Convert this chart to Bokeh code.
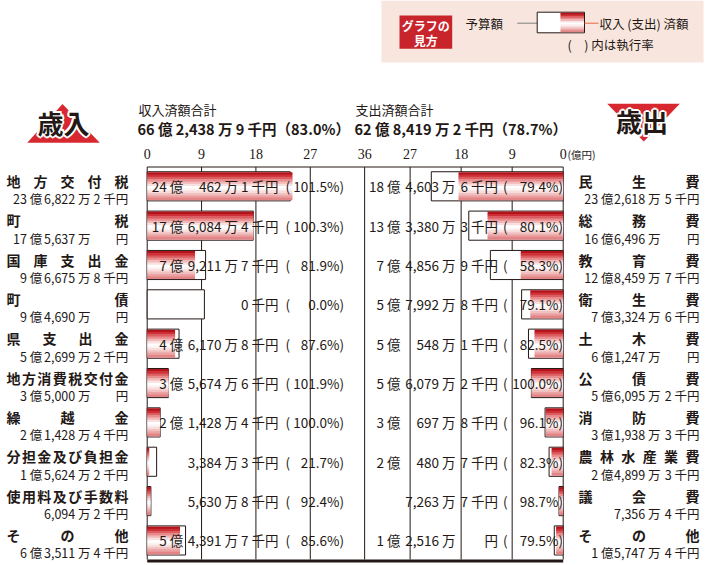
from bokeh.plotting import figure
from bokeh.models import Range1d
from bokeh.core.properties import value
from bokeh.embed import file_html
from bokeh.resources import INLINE

# ---------------- data (千円) ----------------
rev_cats = ["地方交付税", "町税", "国庫支出金", "町債", "県支出金", "地方消費税交付金",
            "繰越金", "分担金及び負担金", "使用料及び手数料", "その他"]
rev_budget = [2368222, 1756370, 966758, 946900, 526992, 350000, 214284, 156242, 60942, 635114]
rev_actual = [2404621, 1760844, 792117, 0, 461708, 356746, 214284, 33843, 56308, 543917]
rev_rate = [101.5, 100.3, 81.9, 0.0, 87.6, 101.9, 100.0, 21.7, 92.4, 85.6]

exp_cats = ["民生費", "総務費", "教育費", "衛生費", "土木費", "公債費", "消防費",
            "農林水産業費", "議会費", "その他"]
exp_budget = [2326185, 1664960, 1284597, 733246, 612470, 560952, 319383, 248993, 73564, 157474]
exp_actual = [1846036, 1333803, 748569, 579928, 505481, 560792, 306978, 204807, 72637, 125160]
exp_rate = [79.4, 80.1, 58.3, 79.1, 82.5, 100.0, 96.1, 82.3, 98.7, 79.5]

rev_total = 6624389
rev_total_rate = 83.0
exp_total = 6284192
exp_total_rate = 78.7

ticks_left = [0, 9, 18, 27, 36]
ticks_right = [0, 9, 18, 27]

FONT = value("Noto Sans CJK JP")
SERIF = value("Liberation Serif")
INK = "#231815"

W, H = 706, 565

# layout helpers: reference pixel -> data coords (left scale / row units)
def X(px):
    return (px - 146.7) / 6.04

def Y(py):
    return (py - 185.8) / 39.35

def oku_units(v):
    return v / 100000.0

def parts(v):
    oku, man, sen = v // 100000, (v // 10) % 10000, v % 10
    a = f"{oku} 億" if oku else ""
    b = f"{man:,} 万" if man else ""
    if v == 0:
        c = "0 千円"
    elif sen:
        c = f"{sen} 千円"
    else:
        c = "円"
    return a, b, c

def total_text(v, r):
    a, b, c = parts(v)
    return f"{a} {b} {c}（{r:.1f}%）"

p = figure(width=W, height=H, x_range=Range1d(X(0), X(W)),
           y_range=Range1d(Y(H), Y(0)), output_backend="svg",
           toolbar_location=None, x_axis_type=None, y_axis_type=None,
           min_border=0, outline_line_color=None)
p.extra_x_ranges = {"r": Range1d(562.7 / 5.67, (562.7 - W) / 5.67)}
p.background_fill_color = "white"
p.border_fill_color = "white"

rows_r = list(range(len(rev_cats)))
rows_e = list(range(len(exp_cats)))

# ---------------- legend ----------------
p.quad(left=[X(381)], right=[X(703)], top=[Y(0)], bottom=[Y(62)],
       fill_color="#f8e6de", line_color=None)
p.quad(left=[X(399)], right=[X(451.7)], top=[Y(15)], bottom=[Y(48.3)],
       fill_color="#c8242b", line_color=None)
p.text(x=[X(425.3), X(425.3)], y=[Y(24.5), Y(39.5)], text=["グラフの", "見方"],
       text_font=FONT, text_font_style="bold", text_font_size="12px",
       text_color="white", text_align="center", text_baseline="middle")
p.text(x=[X(465)], y=[Y(22.7)], text=["予算額"], text_font=FONT,
       text_font_size="12.5px", text_color=INK, text_baseline="middle")
p.segment(x0=[X(516.7)], x1=[X(536.7)], y0=[Y(22.7)], y1=[Y(22.7)],
          line_color="#808080", line_width=1)
p.quad(left=[X(536.7)], right=[X(584)], top=[Y(11.7)], bottom=[Y(32.3)],
       fill_color="white", line_color=INK, line_width=1)

STRIPS = ["#b3141c", "#cc2f35", "#dc5d60", "#e88c8d", "#f2b9b9", "#f9e0e0",
          "#ffffff", "#fdf3f3", "#f8dddd", "#f1c0c0", "#eaa2a2", "#e38586"]
n = len(STRIPS)
lt, lb = 12.3, 31.7
for i, c in enumerate(STRIPS):
    t = lt + (lb - lt) * i / n
    b = lt + (lb - lt) * (i + 1) / n + 0.5
    p.quad(left=[X(560)], right=[X(583.5)], top=[Y(t)], bottom=[Y(min(b, lb))],
           fill_color=c, line_color=None)
p.segment(x0=[X(584)], x1=[X(598)], y0=[Y(22.7)], y1=[Y(22.7)],
          line_color="#e9683f", line_width=1)
p.text(x=[X(599)], y=[Y(22.7)], text=["収入 (支出) 済額"], text_font=FONT,
       text_font_size="12.5px", text_color=INK, text_baseline="middle")
p.text(x=[X(567)], y=[Y(44.3)], text=["(　) 内は執行率"], text_font=FONT,
       text_font_size="12.5px", text_color=INK, text_baseline="middle")

# ---------------- badges ----------------
p.patch(x=[X(26.7), X(99.3), X(62)], y=[Y(142.3), Y(142.3), Y(103.5)],
        fill_color="#d7282f", line_color=None)
p.patch(x=[X(606.7), X(679.3), X(643.3)], y=[Y(103.3), Y(103.3), Y(141)],
        fill_color="#d7282f", line_color=None)
for dx, dy in [(-2, 0), (2, 0), (0, -2), (0, 2), (-1.5, -1.5), (1.5, 1.5), (-1.5, 1.5), (1.5, -1.5)]:
    p.text(x=[X(63), X(641.5)], y=[Y(121.5), Y(120)], text=["歳入", "歳出"],
           x_offset=dx, y_offset=dy, text_font=FONT, text_font_style="bold",
           text_font_size="26px", text_color="white", text_align="center",
           text_baseline="middle")
p.text(x=[X(63), X(641.5)], y=[Y(121.5), Y(120)], text=["歳入", "歳出"],
       text_font=FONT, text_font_style="bold", text_font_size="26px",
       text_color=INK, text_align="center", text_baseline="middle")

# ---------------- headers ----------------
p.text(x=[X(138), X(355)], y=[Y(109), Y(109)], text=["収入済額合計", "支出済額合計"],
       text_font=FONT, text_font_size="13px", text_color=INK, text_baseline="middle")
p.text(x=[X(137), X(354)], y=[Y(128), Y(128)],
       text=[total_text(rev_total, rev_total_rate), total_text(exp_total, exp_total_rate)],
       text_font=FONT, text_font_style="bold", text_font_size="14.5px",
       text_color=INK, text_baseline="middle")

# ---------------- axis ticks / grid ----------------
p.text(x=ticks_left, y=[Y(153)] * len(ticks_left), text=[str(t) for t in ticks_left],
       text_font=SERIF, text_font_size="14px", text_color=INK,
       text_align="center", text_baseline="middle")
p.text(x=ticks_right, y=[Y(153)] * len(ticks_right), text=[str(t) for t in ticks_right],
       text_font=SERIF, text_font_size="14px", text_color=INK,
       text_align="center", text_baseline="middle", x_range_name="r")
p.text(x=[X(567)], y=[Y(153.5)], text=["(億円)"], text_font=FONT,
       text_font_size="10.5px", text_color=INK, text_baseline="middle")

p.segment(x0=ticks_left, x1=ticks_left, y0=[Y(166.5)] * len(ticks_left),
          y1=[Y(559)] * len(ticks_left), line_color=INK, line_width=1)
p.segment(x0=ticks_right, x1=ticks_right, y0=[Y(166.5)] * len(ticks_right),
          y1=[Y(559)] * len(ticks_right), line_color=INK, line_width=1,
          x_range_name="r")
p.segment(x0=[0], x1=[X(562.7)], y0=[Y(166.5)], y1=[Y(166.5)],
          line_color=INK, line_width=1)

# ---------------- bars ----------------
BOX_H = 0.74
BAR_H = 0.70
p.hbar(y=rows_r, left=0, right=[oku_units(v) for v in rev_budget], height=BOX_H,
       fill_color="white", line_color=INK, line_width=1)
p.hbar(y=rows_e, left=0, right=[oku_units(v) for v in exp_budget], height=BOX_H,
       fill_color="white", line_color=INK, line_width=1, x_range_name="r")

for i, c in enumerate(STRIPS):
    off = -BAR_H / 2 + BAR_H * (i + 0.5) / n
    h = BAR_H / n + 0.015
    p.hbar(y=[r + off for r in rows_r], left=0, right=[oku_units(v) for v in rev_actual],
           height=h, fill_color=c, line_color=None)
    p.hbar(y=[r + off for r in rows_e], left=0, right=[oku_units(v) for v in exp_actual],
           height=h, fill_color=c, line_color=None, x_range_name="r")

p.segment(x0=[0], x1=[X(562.7)], y0=[Y(560.5)], y1=[Y(560.5)],
          line_color=INK, line_width=3)

# ---------------- centre value texts ----------------
def centre_texts(actual, rate, rows, cols):
    oku_end, man_end, sen_end, paren_x, pct_end = cols
    pa = [parts(v) for v in actual]
    common = dict(text_font=FONT, text_font_size="13.5px", text_color=INK,
                  text_baseline="middle")
    p.text(x=[X(oku_end)] * len(rows), y=rows, text=[q[0] for q in pa],
           text_align="right", **common)
    p.text(x=[X(man_end)] * len(rows), y=rows, text=[q[1] for q in pa],
           text_align="right", **common)
    p.text(x=[X(sen_end)] * len(rows), y=rows, text=[q[2] for q in pa],
           text_align="right", **common)
    p.text(x=[X(paren_x)] * len(rows), y=rows, text=["("] * len(rows),
           text_align="left", **common)
    p.text(x=[X(pct_end)] * len(rows), y=rows, text=[f"{r:.1f}%)" for r in rate],
           text_align="right", **common)

centre_texts(rev_actual, rev_rate, rows_r, (182.7, 237.5, 278, 285, 343.5))
centre_texts(exp_actual, exp_rate, rows_e, (400, 455, 497.5, 502.5, 562.5))

# ---------------- side labels ----------------
def side_labels(cats, budget, rows, left_px, right_px, cols):
    xs, ys, ts = [], [], []
    cw = 14
    for r, name in zip(rows, cats):
        k = len(name)
        c0, c1 = left_px + cw / 2, right_px - cw / 2
        for j, ch in enumerate(name):
            xs.append(X(c0 + (c1 - c0) * j / (k - 1)))
            ys.append(r + Y(185.8 - 5.5))
            ts.append(ch)
    p.text(x=xs, y=ys, text=ts, text_font=FONT, text_font_style="bold",
           text_font_size="14px", text_color=INK, text_align="center",
           text_baseline="middle")
    pb = [parts(v) for v in budget]
    yy = [r + Y(185.8 + 12.5) for r in rows]
    common = dict(text_font=FONT, text_font_size="12.5px", text_color=INK,
                  text_baseline="middle", text_align="right")
    for idx, cx in enumerate(cols):
        p.text(x=[X(cx)] * len(rows), y=yy, text=[q[idx] for q in pb], **common)

side_labels(rev_cats, rev_budget, rows_r, 6, 128, (41.7, 90, 127.7))
side_labels(exp_cats, exp_budget, rows_e, 578, 699, (613, 660, 699))

open("out.html", "w").write(file_html(p, INLINE))
